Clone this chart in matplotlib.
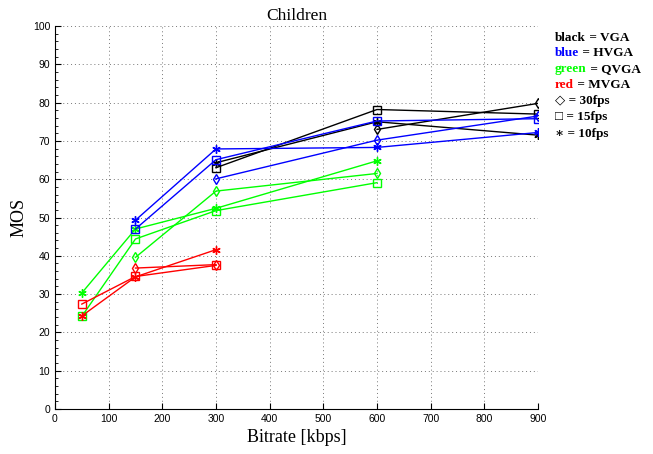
"""
MOS vs bitrate for the Children clip, per resolution and frame rate
"""
import matplotlib
matplotlib.use("Agg")
import matplotlib.pyplot as plt
from matplotlib.ticker import MultipleLocator

# VGA (black)
vga_30_x = [600, 900]
vga_30 = [73.0, 79.8]
vga_15_x = [300, 600, 900]
vga_15 = [63.0, 78.2, 77.0]
vga_10_x = [300, 600, 900]
vga_10 = [64.3, 75.0, 71.5]

# HVGA (blue)
hvga_30_x = [300, 600, 900]
hvga_30 = [60.1, 70.2, 76.5]
hvga_15_x = [150, 300, 600, 900]
hvga_15 = [47.0, 65.1, 75.2, 75.8]
hvga_10_x = [150, 300, 600, 900]
hvga_10 = [49.3, 67.9, 68.3, 72.2]

# QVGA (green)
qvga_30_x = [150, 300, 600]
qvga_30 = [39.6, 56.9, 61.5]
qvga_15_x = [50, 150, 300, 600]
qvga_15 = [24.2, 44.4, 51.8, 59.1]
qvga_10_x = [50, 150, 300, 600]
qvga_10 = [30.3, 47.0, 52.4, 64.8]

# MVGA (red)
mvga_30_x = [150, 300]
mvga_30 = [36.8, 37.7]
mvga_15_x = [50, 150, 300]
mvga_15 = [27.4, 34.6, 37.5]
mvga_10_x = [50, 150, 300]
mvga_10 = [24.3, 34.5, 41.6]

# key text at the right
key_rows = [
    [("black", 'k'), (" = VGA", 'k')],
    [("blue", '#0000ff'), (" = HVGA", 'k')],
    [("green", '#00ff00'), (" = QVGA", 'k')],
    [("red", '#ff0000'), (" = MVGA", 'k')],
    [("\u25c7 = 30fps", 'k')],
    [("\u25a1 = 15fps", 'k')],
    [("\u2217 = 10fps", 'k')],
]

asterisk = (6, 2, 0)

fig = plt.figure(figsize=(6.53, 4.54), dpi=100)
ax = fig.add_axes([0.0842, 0.0991, 0.7397, 0.8436])

series = [
    (vga_30_x, vga_30, 'k', 'd'), (vga_15_x, vga_15, 'k', 's'), (vga_10_x, vga_10, 'k', asterisk),
    (qvga_30_x, qvga_30, '#00ff00', 'd'), (qvga_15_x, qvga_15, '#00ff00', 's'), (qvga_10_x, qvga_10, '#00ff00', asterisk),
    (mvga_30_x, mvga_30, '#ff0000', 'd'), (mvga_15_x, mvga_15, '#ff0000', 's'), (mvga_10_x, mvga_10, '#ff0000', asterisk),
    (hvga_30_x, hvga_30, '#0000ff', 'd'), (hvga_15_x, hvga_15, '#0000ff', 's'), (hvga_10_x, hvga_10, '#0000ff', asterisk),
]
for xs, ys, col, mk in series:
    ax.plot(xs, ys, color=col, marker=mk, markersize=5.5 if mk != asterisk else 6,
            markerfacecolor='none', markeredgecolor=col, linewidth=1, markeredgewidth=1)

ax.set_xlim(0, 900)
ax.set_ylim(0, 100)
ax.xaxis.set_major_locator(MultipleLocator(100))
ax.yaxis.set_major_locator(MultipleLocator(10))
ax.yaxis.set_minor_locator(MultipleLocator(2))
ax.tick_params(direction='in', labelsize=7.5, length=4)
ax.tick_params(which='minor', direction='in', length=2)
for lab in ax.get_xticklabels() + ax.get_yticklabels():
    lab.set_family('Liberation Sans')
ax.spines['top'].set_visible(False)
ax.spines['right'].set_visible(False)
ax.grid(True, linestyle=(0, (1, 3)), color='#777777', linewidth=0.7)

ax.set_xlabel("Bitrate [kbps]", family='Liberation Serif', fontsize=13)
ax.set_ylabel("MOS", family='Liberation Serif', fontsize=13)
ax.set_title("Children", family='Liberation Serif', fontsize=12.5, pad=4)

y_rows = [38, 53, 69, 85, 101, 117, 134]
fig.canvas.draw()
renderer = fig.canvas.get_renderer()
for row, ypix in zip(key_rows, y_rows):
    xpos = 555
    for txt, col in row:
        t = fig.text(xpos / 653, 1 - ypix / 454, txt, color=col, fontsize=9.5, fontweight='bold',
                     family=['Liberation Serif', 'DejaVu Serif'], va='center', ha='left')
        xpos += t.get_window_extent(renderer).width

fig.savefig("out.png", dpi=100)
